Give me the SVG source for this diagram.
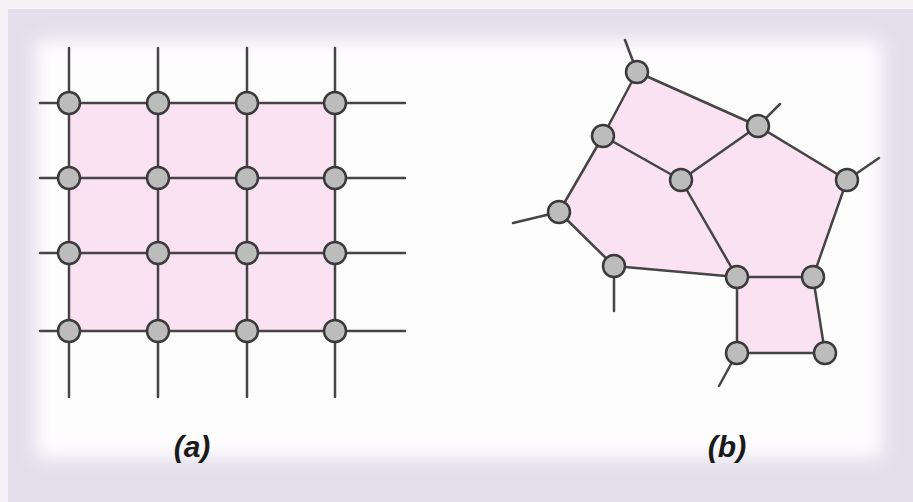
<svg xmlns="http://www.w3.org/2000/svg" width="913" height="502" viewBox="0 0 913 502">
<defs>
<filter id="soft" x="-10%" y="-10%" width="120%" height="120%"><feGaussianBlur stdDeviation="9"/></filter>
<style>
.edge{stroke:#454545;stroke-width:2.5;fill:none;stroke-linecap:round}
.node circle{fill:#bcbcbc;stroke:#3a3a3a;stroke-width:2.5}
.face{fill:#fbe2f3;stroke:none}
.lbl{font-family:"Liberation Sans",Arial,sans-serif;font-weight:bold;font-style:italic;font-size:30px;fill:#1a1a1a;text-anchor:middle}
</style>
</defs>
<rect x="0" y="0" width="913" height="502" fill="#f5f3f8"/>
<rect x="8" y="9" width="905" height="493" fill="#e3deeb"/>
<rect x="36" y="40" width="846" height="418" fill="#fefdfe" filter="url(#soft)"/>

<g id="faces">
<rect class="face" x="69" y="103" width="266" height="228"/>
<polygon class="face" points="637,72 758,126 847,180 813,277 825,353 737,353 737,277 614,266 559,212 603,136"/>
</g>

<g id="connectors">
<line class="edge" x1="69" y1="48" x2="69" y2="397"/>
<line class="edge" x1="158" y1="48" x2="158" y2="397"/>
<line class="edge" x1="247" y1="48" x2="247" y2="397"/>
<line class="edge" x1="335" y1="48" x2="335" y2="397"/>
<line class="edge" x1="40" y1="103" x2="405" y2="103"/>
<line class="edge" x1="40" y1="178" x2="405" y2="178"/>
<line class="edge" x1="40" y1="253" x2="405" y2="253"/>
<line class="edge" x1="40" y1="331" x2="405" y2="331"/>

<line class="edge" x1="637" y1="72" x2="758" y2="126"/>
<line class="edge" x1="637" y1="72" x2="603" y2="136"/>
<line class="edge" x1="603" y1="136" x2="681" y2="180"/>
<line class="edge" x1="603" y1="136" x2="559" y2="212"/>
<line class="edge" x1="758" y1="126" x2="681" y2="180"/>
<line class="edge" x1="758" y1="126" x2="847" y2="180"/>
<line class="edge" x1="681" y1="180" x2="737" y2="277"/>
<line class="edge" x1="847" y1="180" x2="813" y2="277"/>
<line class="edge" x1="559" y1="212" x2="614" y2="266"/>
<line class="edge" x1="614" y1="266" x2="737" y2="277"/>
<line class="edge" x1="737" y1="277" x2="813" y2="277"/>
<line class="edge" x1="737" y1="277" x2="737" y2="353"/>
<line class="edge" x1="813" y1="277" x2="825" y2="353"/>
<line class="edge" x1="737" y1="353" x2="825" y2="353"/>
<line class="edge" x1="637" y1="72" x2="625" y2="40"/>
<line class="edge" x1="758" y1="126" x2="780" y2="104"/>
<line class="edge" x1="847" y1="180" x2="879" y2="158"/>
<line class="edge" x1="559" y1="212" x2="513" y2="223"/>
<line class="edge" x1="614" y1="266" x2="614" y2="311"/>
<line class="edge" x1="737" y1="353" x2="719" y2="386"/>
</g>

<g id="grid-nodes" class="node">
<g id="a11"><circle cx="69" cy="103" r="11"/></g>
<g id="a12"><circle cx="158" cy="103" r="11"/></g>
<g id="a13"><circle cx="247" cy="103" r="11"/></g>
<g id="a14"><circle cx="335" cy="103" r="11"/></g>
<g id="a21"><circle cx="69" cy="178" r="11"/></g>
<g id="a22"><circle cx="158" cy="178" r="11"/></g>
<g id="a23"><circle cx="247" cy="178" r="11"/></g>
<g id="a24"><circle cx="335" cy="178" r="11"/></g>
<g id="a31"><circle cx="69" cy="253" r="11"/></g>
<g id="a32"><circle cx="158" cy="253" r="11"/></g>
<g id="a33"><circle cx="247" cy="253" r="11"/></g>
<g id="a34"><circle cx="335" cy="253" r="11"/></g>
<g id="a41"><circle cx="69" cy="331" r="11"/></g>
<g id="a42"><circle cx="158" cy="331" r="11"/></g>
<g id="a43"><circle cx="247" cy="331" r="11"/></g>
<g id="a44"><circle cx="335" cy="331" r="11"/></g>
</g>

<g id="mesh-nodes" class="node">
<g id="b1"><circle cx="637" cy="72" r="11"/></g>
<g id="b2"><circle cx="758" cy="126" r="11"/></g>
<g id="b3"><circle cx="603" cy="136" r="11"/></g>
<g id="b4"><circle cx="681" cy="180" r="11"/></g>
<g id="b5"><circle cx="847" cy="180" r="11"/></g>
<g id="b6"><circle cx="559" cy="212" r="11"/></g>
<g id="b7"><circle cx="614" cy="266" r="11"/></g>
<g id="b8"><circle cx="737" cy="277" r="11"/></g>
<g id="b9"><circle cx="813" cy="277" r="11"/></g>
<g id="b10"><circle cx="737" cy="353" r="11"/></g>
<g id="b11"><circle cx="825" cy="353" r="11"/></g>
</g>

<g id="labels">
<text class="lbl" x="192" y="457">(a)</text>
<text class="lbl" x="727" y="457">(b)</text>
</g>
</svg>
